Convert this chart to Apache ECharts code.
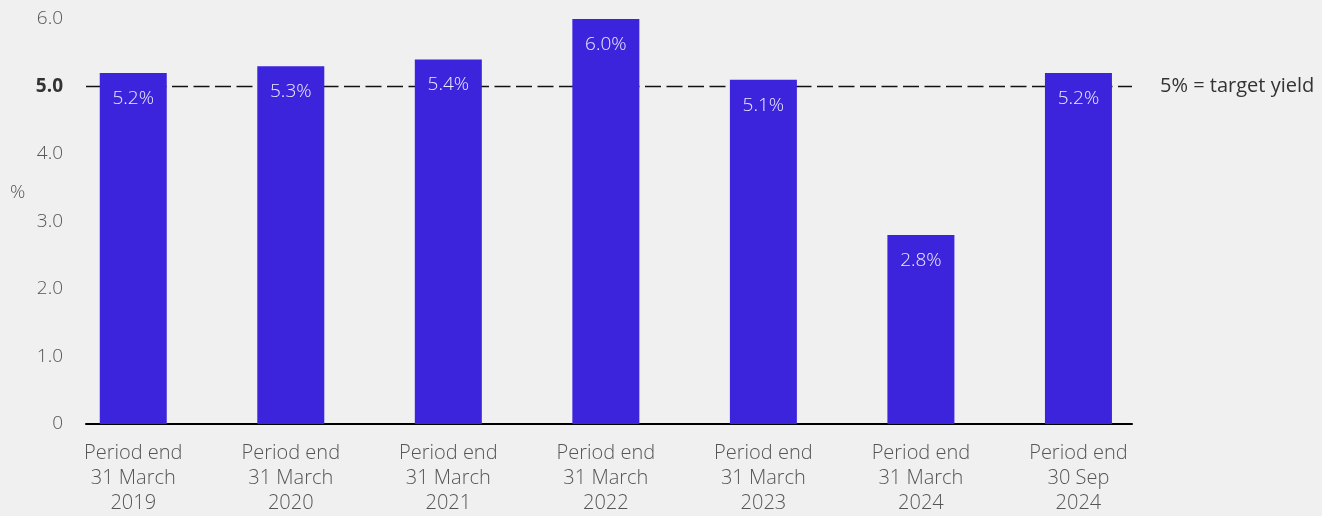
<!DOCTYPE html>
<html><head><meta charset="utf-8">
<script src="https://cdn.jsdelivr.net/npm/echarts@6/dist/echarts.min.js"></script>
<style>html,body{margin:0;padding:0;background:#f0f0f0;}#c{width:1322px;height:516px;}</style>
</head><body><div id="c"></div>
<script>
const categories = ['Period end\n31 March\n2019','Period end\n31 March\n2020','Period end\n31 March\n2021','Period end\n31 March\n2022','Period end\n31 March\n2023','Period end\n31 March\n2024','Period end\n30 Sep\n2024'];
const yieldValues = [5.2, 5.3, 5.4, 6.0, 5.1, 2.8, 5.2];
const targetYield = 5.0;
const targetLabel = '5% = target yield';
const yTicks = [0, 1, 2, 3, 4, 5, 6];
const unitLabel = '%';

const FONT = '"Open Sans", "Noto Sans", sans-serif';
const W = 300;
const chart = echarts.init(document.getElementById('c'));
chart.setOption({
  backgroundColor: '#f0f0f0',
  animation: false,
  title: { text: unitLabel, left: 5, top: 178, textStyle: { fontFamily: FONT, fontSize: 19, fontWeight: W, color: '#555' } },
  grid: { left: 86, right: 190, top: 19, bottom: 90, containLabel: false },
  xAxis: {
    type: 'value', min: -0.3, max: 6.34,
    axisLine: { show: true, onZero: true, lineStyle: { color: '#000', width: 2 } },
    axisTick: { show: false },
    splitLine: { show: false },
    axisLabel: {
      customValues: categories.map((c, i) => i),
      formatter: v => categories[Math.round(v)] || '',
      fontFamily: FONT, fontSize: 20, fontWeight: W, color: '#555', lineHeight: 25, margin: 17
    }
  },
  yAxis: {
    type: 'value', min: 0, max: 6, interval: 1,
    axisLine: { show: false }, axisTick: { show: false }, splitLine: { show: false },
    axisLabel: {
      margin: 23,
      fontFamily: FONT, fontSize: 19, fontWeight: W, color: '#555',
      formatter: v => v === 0 ? '0' : (v === targetYield ? '{b|' + v.toFixed(1) + '}' : v.toFixed(1)),
      rich: { b: { fontFamily: FONT, fontSize: 19, fontWeight: 'bold', color: '#333' } }
    }
  },
  series: [{
    type: 'line',
    data: [],
    z: 1,
    markLine: {
      silent: true, symbol: 'none', z: 1,
      lineStyle: { color: '#111', width: 1.4, type: [16, 5.5] },
      label: { show: true, position: 'end', distance: 28, formatter: targetLabel, fontFamily: FONT, fontSize: 20, fontWeight: 400, color: '#333' },
      data: [{ yAxis: targetYield }]
    }
  }, {
    type: 'bar',
    barWidth: 67,
    data: yieldValues.map((v, i) => [i, v]),
    itemStyle: { color: '#3c23dc' },
    label: {
      show: true, position: 'insideTop', distance: 16,
      formatter: p => p.value[1].toFixed(1) + '%',
      fontFamily: FONT, fontSize: 19, fontWeight: W, color: '#ecebff'
    },
    z: 3
  }]
});
</script></body></html>
